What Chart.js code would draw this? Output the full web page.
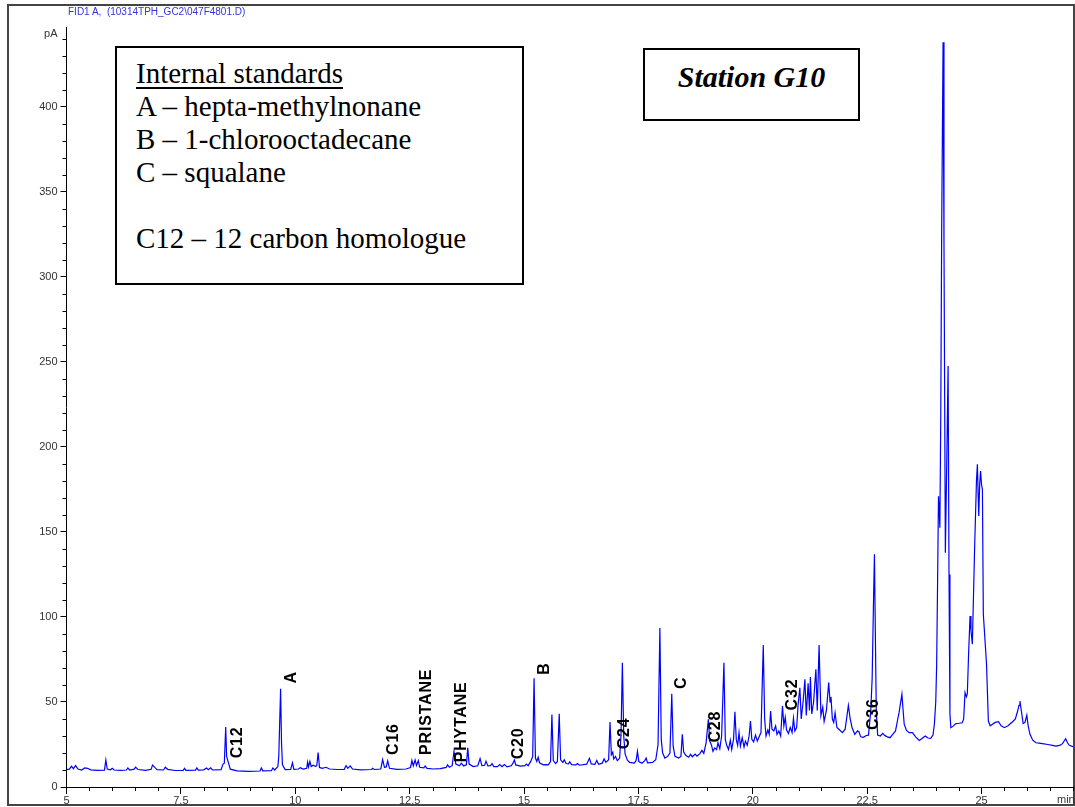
<!DOCTYPE html>
<html>
<head>
<meta charset="utf-8">
<title>Station G10 chromatogram</title>
<script src="https://cdn.jsdelivr.net/npm/chart.js@4.4.1/dist/chart.umd.min.js"></script>
<style>
  html, body { margin: 0; padding: 0; background: #fff; }
  #wrap { position: relative; width: 1075px; height: 807px; overflow: hidden; }
  #frame { position: absolute; left: 7px; top: 4px; width: 1068px; height: 802px; box-sizing: border-box; border: 2px solid #444; }
  #chart { position: absolute; left: 0; top: 0; }
  #run-title { position: absolute; left: 68px; top: 6px; font: 10px "Liberation Sans", Arial, sans-serif; line-height: 12px; color: #3333dd; white-space: pre; }
  .box { position: absolute; box-sizing: border-box; border: 2px solid #000; background: #fff; font-family: "Liberation Serif", "Times New Roman", serif; color: #000; }
  #standards { left: 115px; top: 46px; width: 409px; height: 239px; padding: 9px 0 0 19px; font-size: 29px; line-height: 33px; }
  #standards u { text-decoration-thickness: 2px; text-underline-offset: 4px; }
  #station { left: 643px; top: 48px; width: 217px; height: 73px; padding-top: 10px; text-align: center; font-size: 30px; line-height: 33px; font-weight: bold; font-style: italic; }
</style>
</head>
<body>
<div id="wrap">
  <div id="frame"></div>
  <canvas id="chart" width="1075" height="807"></canvas>
  <div id="run-title">FID1 A,  (10314TPH_GC2\047F4801.D)</div>
  <div class="box" id="standards">
    <u>Internal standards</u><br>
    A – hepta-methylnonane<br>
    B – 1-chlorooctadecane<br>
    C – squalane<br>
    <br>
    C12 – 12 carbon homologue
  </div>
  <div class="box" id="station">Station G10</div>
</div>
<script>
// Retention time (min) and detector signal (pA)
const retentionTime = [
  5.00, 5.06, 5.11, 5.15, 5.20, 5.25, 5.33, 5.40, 5.46, 5.53, 5.68, 5.83, 5.86, 5.89, 5.96,
  6.00, 6.04, 6.18, 6.31, 6.34, 6.38, 6.48, 6.51, 6.56, 6.73, 6.85, 6.88, 6.93, 6.98,
  7.12, 7.16, 7.21, 7.38, 7.55, 7.58, 7.61, 7.82, 7.85, 7.88,
  8.00, 8.06, 8.10, 8.15, 8.19, 8.38, 8.42, 8.45, 8.48, 8.50, 8.54, 8.58, 8.73, 8.98,
  9.23, 9.26, 9.29, 9.48, 9.51, 9.55, 9.62, 9.64, 9.68, 9.70, 9.72, 9.78, 9.90, 9.94, 9.97,
  10.07, 10.11, 10.17, 10.25, 10.27, 10.29, 10.32, 10.35, 10.39, 10.44, 10.47, 10.50, 10.53, 10.59, 10.67, 10.75, 10.92,
  11.07, 11.11, 11.15, 11.20, 11.25, 11.42, 11.67, 11.69, 11.73, 11.87, 11.91, 11.95, 11.99,
  12.02, 12.06, 12.22, 12.42, 12.52, 12.55, 12.58, 12.62, 12.65, 12.69, 12.72, 12.81, 12.84, 12.88,
  13.02, 13.17, 13.30, 13.33, 13.37, 13.43, 13.47, 13.51, 13.59, 13.63, 13.68, 13.74, 13.77, 13.80, 13.89, 13.99,
  14.04, 14.08, 14.14, 14.17, 14.21, 14.27, 14.30, 14.34, 14.42, 14.47, 14.52, 14.57, 14.63, 14.72, 14.76, 14.79, 14.82, 14.92,
  15.02, 15.05, 15.09, 15.15, 15.19, 15.22, 15.25, 15.28, 15.31, 15.34, 15.42, 15.47, 15.53, 15.58, 15.61, 15.64, 15.69, 15.73, 15.77, 15.80, 15.85, 15.88, 15.92, 15.97,
  16.00, 16.04, 16.13, 16.17, 16.21, 16.37, 16.43, 16.47, 16.55, 16.59, 16.63, 16.71, 16.75, 16.79, 16.85, 16.88, 16.91, 16.94, 16.96,
  17.00, 17.04, 17.09, 17.12, 17.15, 17.18, 17.21, 17.26, 17.31, 17.41, 17.45, 17.48, 17.51, 17.58, 17.64, 17.67, 17.70, 17.81, 17.88, 17.93, 17.97,
  18.00, 18.03, 18.08, 18.14, 18.19, 18.23, 18.26, 18.30, 18.38, 18.43, 18.46, 18.49, 18.54, 18.60, 18.64, 18.68, 18.74, 18.78, 18.84, 18.89, 18.93, 18.98,
  19.03, 19.06, 19.10, 19.13, 19.17, 19.21, 19.24, 19.28, 19.32, 19.37, 19.40, 19.43, 19.47, 19.51, 19.54, 19.58, 19.61, 19.64, 19.67, 19.70, 19.73, 19.77, 19.81, 19.84, 19.88, 19.92, 19.95, 19.98,
  20.02, 20.06, 20.10, 20.14, 20.18, 20.23, 20.26, 20.29, 20.33, 20.36, 20.39, 20.42, 20.46, 20.50, 20.53, 20.57, 20.61, 20.65, 20.68, 20.71, 20.74, 20.78, 20.82, 20.86, 20.89, 20.92, 20.96, 20.99,
  21.03, 21.06, 21.10, 21.14, 21.17, 21.21, 21.24, 21.26, 21.29, 21.33, 21.38, 21.41, 21.45, 21.49, 21.53, 21.56, 21.61, 21.66, 21.69, 21.71, 21.74, 21.77, 21.80, 21.84, 21.90, 21.96,
  22.02, 22.06, 22.09, 22.13, 22.17, 22.23, 22.29, 22.32, 22.36, 22.42, 22.48, 22.53, 22.58, 22.61, 22.64, 22.66, 22.68, 22.70, 22.73, 22.79, 22.84, 22.89, 22.94,
  23.00, 23.06, 23.12, 23.17, 23.20, 23.26, 23.29, 23.31, 23.36, 23.42, 23.49, 23.56, 23.64, 23.70, 23.77, 23.83, 23.89, 23.94, 23.97,
  24.00, 24.02, 24.04, 24.06, 24.08, 24.09, 24.11, 24.13, 24.16, 24.18, 24.21, 24.24, 24.27, 24.29, 24.31, 24.33, 24.38, 24.44, 24.51, 24.58, 24.61, 24.64, 24.67, 24.69, 24.72, 24.75, 24.77, 24.80, 24.85, 24.89, 24.91, 24.94, 24.96, 24.98,
  25.00, 25.02, 25.04, 25.08, 25.11, 25.15, 25.19, 25.24, 25.30, 25.37, 25.43, 25.50, 25.58, 25.64, 25.68, 25.74, 25.79, 25.82, 25.84, 25.87, 25.91, 25.95, 25.99,
  26.02, 26.06, 26.12, 26.19, 26.26, 26.33, 26.45, 26.55, 26.63, 26.72, 26.77, 26.84, 26.88, 26.92, 27.00
]
const signalPA = [
  10.2, 10.5, 12.2, 10.8, 12.6, 10.6, 10.0, 11.2, 11.0, 10.1, 9.8, 9.9, 15.9, 10.6, 10.1,
  11.0, 10.0, 9.8, 10.0, 11.2, 10.0, 10.5, 11.7, 10.3, 9.8, 10.4, 12.9, 11.5, 10.2,
  10.0, 11.6, 10.4, 9.7, 9.8, 11.0, 9.8, 9.9, 11.2, 9.9,
  10.1, 11.2, 10.2, 11.3, 10.0, 10.2, 13.5, 14.0, 35.3, 18.0, 14.2, 10.5, 9.5, 9.2,
  9.4, 11.2, 9.5, 9.6, 11.2, 10.0, 12.0, 18.2, 57.8, 26.0, 13.0, 10.2, 10.3, 14.2, 10.4,
  10.6, 11.3, 10.5, 11.0, 14.6, 11.8, 15.0, 12.0, 12.8, 12.2, 12.5, 20.2, 11.5, 11.0, 11.6, 10.6, 10.3,
  10.4, 12.6, 11.0, 12.4, 10.6, 10.1, 10.3, 11.0, 10.3, 10.6, 16.1, 11.6, 11.8,
  15.4, 11.0, 10.4, 10.6, 11.5, 15.6, 12.5, 15.9, 12.6, 15.5, 11.6, 11.3, 12.4, 10.9,
  10.6, 10.8, 11.5, 13.0, 11.6, 12.5, 21.0, 13.5, 12.5, 14.0, 12.4, 13.0, 23.0, 13.5, 12.0, 12.5,
  16.7, 12.6, 12.8, 15.2, 12.4, 12.6, 13.8, 12.0, 12.0, 13.2, 12.0, 13.2, 11.8, 12.5, 14.0, 15.9, 13.0, 12.3,
  12.6, 13.5, 12.5, 15.2, 18.0, 63.9, 17.0, 15.0, 17.5, 14.2, 13.0, 13.2, 13.0, 15.0, 42.7, 15.5, 13.8, 15.0, 43.0, 16.0, 14.5, 16.0, 13.8, 13.6,
  14.8, 13.2, 13.0, 13.8, 12.8, 13.4, 16.9, 13.6, 13.3, 15.6, 13.4, 14.0, 16.5, 14.5, 16.0, 38.2, 19.0, 20.5, 16.5,
  18.0, 15.5, 17.0, 30.0, 73.1, 30.0, 19.5, 15.8, 14.5, 14.0, 15.5, 21.0, 15.0, 14.0, 15.5, 17.0, 14.2, 14.5, 16.0, 25.0, 93.5,
  28.0, 20.0, 17.0, 18.0, 20.0, 54.9, 24.0, 18.0, 17.0, 18.0, 31.0, 20.5, 18.5, 17.5, 19.2, 17.8, 19.4, 18.2, 19.5, 21.5, 19.8, 26.0,
  39.8, 27.0, 24.5, 21.0, 23.0, 22.0, 26.0, 22.5, 30.0, 73.0, 28.0, 24.5, 22.0, 27.5, 22.0, 28.0, 44.3, 28.0, 24.5, 32.0, 24.0, 29.0, 23.5, 27.0, 24.5, 30.0, 38.8, 28.0,
  26.5, 30.5, 27.0, 29.5, 32.0, 83.5, 40.0, 30.0, 33.5, 31.0, 44.7, 34.0, 33.0, 36.0, 31.0, 33.0, 30.0, 47.6, 36.0, 41.0, 33.5, 31.5, 35.0, 32.0, 40.5, 33.0, 35.0, 48.0,
  58.4, 40.0, 50.0, 63.3, 42.0, 61.0, 45.0, 64.7, 43.0, 50.0, 69.2, 45.0, 83.5, 42.0, 47.0, 38.5, 45.0, 61.4, 50.0, 53.0, 40.0, 38.0, 43.7, 35.0, 33.5, 32.0,
  34.0, 42.0, 48.0, 40.0, 35.0, 31.0, 33.0, 32.5, 29.5, 29.2, 30.3, 30.5, 45.0, 64.0, 110.0, 136.9, 90.0, 45.0, 30.5, 30.0, 31.5, 30.2, 29.5,
  29.0, 31.0, 33.0, 40.0, 44.0, 54.5, 44.0, 37.0, 33.3, 32.0, 32.0, 29.5, 27.4, 28.5, 30.0, 28.8, 28.6, 30.5, 36.9,
  50.0, 72.0, 120.0, 171.0, 160.0, 152.5, 220.0, 330.0, 438.0, 320.0, 137.8, 190.0, 247.6, 125.0, 43.0, 34.9, 35.8, 37.3, 37.5, 37.8, 40.0, 55.5, 53.0, 54.7, 80.0, 100.6, 92.0, 84.0, 140.8, 180.0, 189.8, 159.4, 178.0, 185.9,
  178.0, 175.0, 101.6, 85.0, 72.0, 38.8, 36.0, 36.9, 38.0, 38.4, 36.0, 34.9, 36.0, 37.5, 38.4, 40.0, 44.7, 48.0, 50.5, 45.0, 37.3, 38.0, 42.2,
  36.0, 31.0, 27.5, 26.0, 25.8, 25.5, 25.0, 24.5, 24.1, 24.6, 25.5, 28.4, 26.0, 24.5, 23.7
]

// Axis ticks
const xMajorTicks = [5, 7.5, 10, 12.5, 15, 17.5, 20, 22.5, 25]
const yMajorTicks = [0, 50, 100, 150, 200, 250, 300, 350, 400]
const xMinorStep = 0.5
const yMinorStep = 10

// Peak annotations: name, retention time and height (pA) of the label centre
const peakNames = ["C12", "A", "C16", "PRISTANE", "PHYTANE", "C20", "B", "C24", "C", "C28", "C32", "C36"]
const peakTimes = [8.74, 9.93, 12.15, 12.86, 13.64, 14.88, 15.45, 17.19, 18.45, 19.18, 20.87, 22.64]
const peakLabelPA = [26.2, 64.5, 28.2, 44.2, 38.3, 25.6, 69.7, 31.5, 61.2, 35.5, 54.4, 42.8]

const axisFont = { family: "Liberation Sans", size: 11 }

// Minor ticks, axis unit labels and rotated peak names
const decorations = {
  id: "decorations",
  afterDraw(chart) {
    const { ctx, chartArea, scales } = chart
    const x = scales.x
    const y = scales.y
    ctx.save()
    ctx.strokeStyle = "#000"
    ctx.lineWidth = 1
    ctx.beginPath()
    for (let v = x.min; v <= x.max + 1e-9; v += xMinorStep) {
      if (xMajorTicks.some((t) => Math.abs(t - v) < 1e-6)) continue
      const px = Math.round(x.getPixelForValue(v)) + 0.5
      ctx.moveTo(px, chartArea.bottom)
      ctx.lineTo(px, chartArea.bottom + 4)
    }
    for (let v = y.min; v <= y.max + 1e-9; v += yMinorStep) {
      if (yMajorTicks.some((t) => Math.abs(t - v) < 1e-6)) continue
      const py = Math.round(y.getPixelForValue(v)) + 0.5
      ctx.moveTo(chartArea.left, py)
      ctx.lineTo(chartArea.left - 4, py)
    }
    ctx.stroke()

    ctx.fillStyle = "#333"
    ctx.font = "11px 'Liberation Sans'"
    ctx.textBaseline = "middle"
    ctx.textAlign = "right"
    ctx.fillText("pA", chartArea.left - 9, 34)
    ctx.textAlign = "left"
    ctx.fillText("min", 1057, 800)

    ctx.fillStyle = "#000"
    ctx.font = "bold 16px 'Liberation Sans'"
    ctx.letterSpacing = "0.8px"
    ctx.textAlign = "center"
    peakNames.forEach((name, i) => {
      ctx.save()
      ctx.translate(x.getPixelForValue(peakTimes[i]), y.getPixelForValue(peakLabelPA[i]))
      ctx.rotate(-Math.PI / 2)
      ctx.fillText(name, 0, 0)
      ctx.restore()
    })
    ctx.restore()
  },
}

const ctx = document.getElementById("chart").getContext("2d")
new Chart(ctx, {
  type: "line",
  data: {
    datasets: [
      {
        data: retentionTime.map((t, i) => ({ x: t, y: signalPA[i] })),
        borderColor: "#0000ff",
        borderWidth: 1.2,
        pointRadius: 0,
        tension: 0,
        fill: false,
      },
    ],
  },
  options: {
    responsive: false,
    animation: false,
    devicePixelRatio: 1,
    layout: { padding: { top: 27, right: 2, left: 0, bottom: 0 } },
    plugins: { legend: { display: false }, tooltip: { enabled: false } },
    scales: {
      x: {
        type: "linear",
        min: 5,
        max: 27,
        afterFit: (s) => { s.height = 20 },
        afterBuildTicks: (s) => { s.ticks = xMajorTicks.map((value) => ({ value })) },
        grid: { drawOnChartArea: false, drawTicks: true, tickLength: 7, color: "#000" },
        border: { color: "#000", width: 1 },
        ticks: { padding: 0, font: axisFont, color: "#333", maxRotation: 0, autoSkip: false },
      },
      y: {
        type: "linear",
        min: 0,
        max: 447,
        afterFit: (s) => { s.width = 66.5 },
        afterBuildTicks: (s) => { s.ticks = yMajorTicks.map((value) => ({ value })) },
        grid: { drawOnChartArea: false, drawTicks: true, tickLength: 6, color: "#000" },
        border: { color: "#000", width: 1 },
        ticks: { padding: 3, font: axisFont, color: "#333" },
      },
    },
  },
  plugins: [decorations],
})
</script>
</body>
</html>
